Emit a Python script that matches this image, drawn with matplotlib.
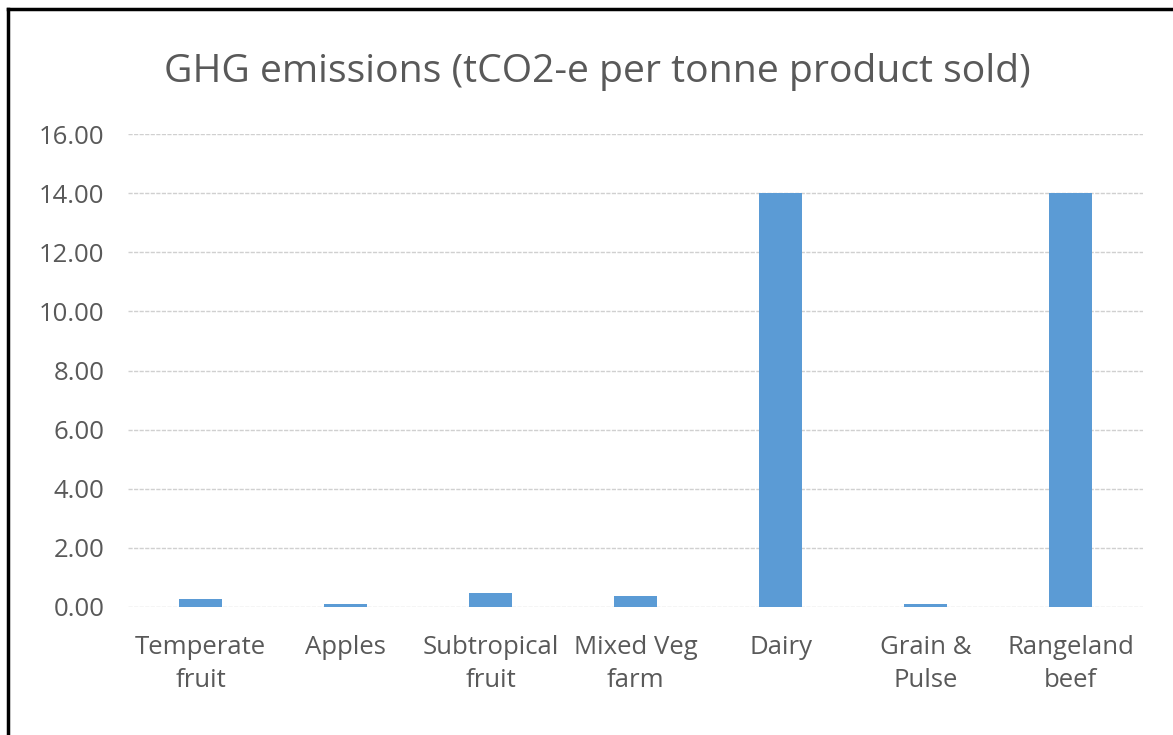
import matplotlib
matplotlib.use("Agg")
import matplotlib.pyplot as plt
from matplotlib.lines import Line2D

categories = ["Temperate\nfruit", "Apples", "Subtropical\nfruit", "Mixed Veg\nfarm",
              "Dairy", "Grain &\nPulse", "Rangeland\nbeef"]
emissions = [0.27, 0.09, 0.47, 0.36, 14.0, 0.09, 14.0]
y_ticks = [0, 2, 4, 6, 8, 10, 12, 14, 16]

plt.rcParams["font.family"] = ["Open Sans", "DejaVu Sans"]

W, H = 1173, 735
fig = plt.figure(figsize=(W / 100, H / 100), dpi=100)
ax = fig.add_axes([128 / W, 1 - 607 / H, (1143 - 128) / W, (607 - 134) / H])

x = list(range(len(categories)))
ax.bar(x, emissions, width=0.30, color="#5B9BD5", zorder=3)

ax.set_xlim(-0.5, len(categories) - 0.5)
ax.set_ylim(0, 16)
ax.set_yticks(y_ticks)
ax.set_yticklabels([f"{v:.2f}" for v in y_ticks])
ax.set_xticks(x)
ax.set_xticklabels(categories, linespacing=1.45)

ax.grid(axis="y", color="#d0d0d0", linewidth=1.0, linestyle=(0, (3, 1)), zorder=0)
for s in ax.spines.values():
    s.set_visible(False)
ax.tick_params(axis="both", length=0, labelsize=18.5, colors="#595959")
ax.tick_params(axis="y", pad=17)
ax.tick_params(axis="x", pad=20)

fig.text(597 / W, 1 - 72 / H, "GHG emissions (tCO2-e per tonne product sold)",
         ha="center", va="center", fontsize=28.2, color="#595959")

# frame lines along the top and left edges
fig.add_artist(Line2D([8 / W, 1.0], [1 - 8.5 / H, 1 - 8.5 / H], color="black", linewidth=2.5))
fig.add_artist(Line2D([7.5 / W, 7.5 / W], [0, 1 - 8.5 / H], color="black", linewidth=2.5))

fig.savefig("out.png", dpi=100)
